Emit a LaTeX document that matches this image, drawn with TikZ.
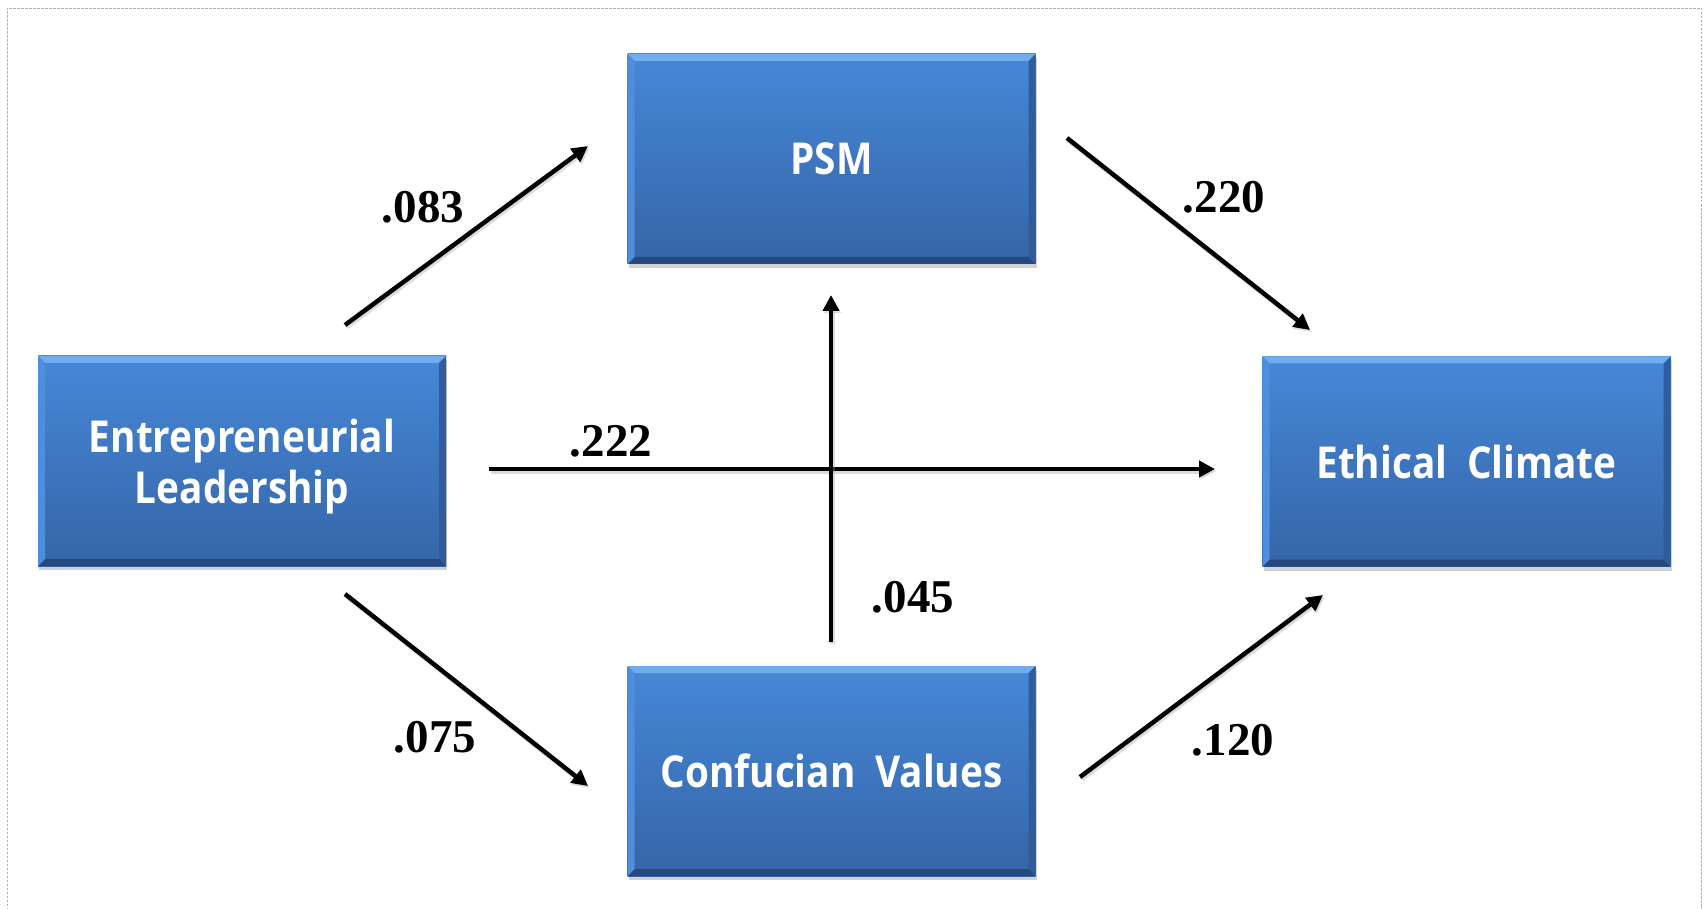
\documentclass[tikz,border=0pt]{standalone}
\usepackage{fontspec}
\usepackage{graphicx}
\setmainfont{Liberation Serif}
\newfontfamily\boxfont{Open Sans}
\usetikzlibrary{arrows.meta,shadows,calc}
\definecolor{boxtop}{RGB}{70,136,216}
\definecolor{boxbot}{RGB}{53,101,167}
\definecolor{bevtop}{RGB}{112,172,238}
\definecolor{bevleft}{RGB}{78,142,220}
\definecolor{bevright}{RGB}{48,92,155}
\definecolor{bevbot}{RGB}{38,72,125}
\definecolor{framegray}{RGB}{175,175,175}
\newcommand\bxt[1]{\scalebox{0.88}[1]{#1}}
\begin{document}
\begin{tikzpicture}[x=1pt,y=-1pt,
  varbox/.style={rectangle, minimum width=408pt, minimum height=210pt, inner sep=0pt,
    top color=boxtop, bottom color=boxbot, draw=none,
    text=white, align=center, font=\boxfont\bfseries\fontsize{44}{51}\selectfont,
    drop shadow={opacity=0.35, shadow xshift=1pt, shadow yshift=-4pt},
    path picture={
      \fill[bevtop] (path picture bounding box.north west) -- (path picture bounding box.north east)
        -- ($(path picture bounding box.north east)+(-7pt,-7pt)$) -- ($(path picture bounding box.north west)+(7pt,-7pt)$) -- cycle;
      \fill[bevbot] (path picture bounding box.south west) -- (path picture bounding box.south east)
        -- ($(path picture bounding box.south east)+(-7pt,7pt)$) -- ($(path picture bounding box.south west)+(7pt,7pt)$) -- cycle;
      \fill[bevleft] (path picture bounding box.north west) -- (path picture bounding box.south west)
        -- ($(path picture bounding box.south west)+(7pt,7pt)$) -- ($(path picture bounding box.north west)+(7pt,-7pt)$) -- cycle;
      \fill[bevright] (path picture bounding box.north east) -- (path picture bounding box.south east)
        -- ($(path picture bounding box.south east)+(-7pt,7pt)$) -- ($(path picture bounding box.north east)+(-7pt,-7pt)$) -- cycle;
    }},
  conn/.style={line width=4.5pt, black, -{Triangle[length=16pt,width=16pt]},
    preaction={draw=black!40, opacity=0.35, line width=5pt, transform canvas={shift={(1.5pt,-2pt)}}}},
  coef/.style={font=\bfseries\fontsize{47}{54}\selectfont, inner sep=0pt}]
\useasboundingbox (0,0) rectangle (1706,909);
\fill[white] (0,0) rectangle (1706,909);
\draw[framegray, line width=0.9pt, dash pattern=on 2.5pt off 1.5pt] (7,930) -- (7,8) -- (1701,8) -- (1701,930);

\node[varbox] (psm) at (831.5,159) {\bxt{PSM}};
\node[varbox] (el) at (242,461) {\rule{0pt}{45pt}\bxt{Entrepreneurial}\\\bxt{Leadership}};
\node[varbox] (ec) at (1466.5,461.5) {\bxt{Ethical\hspace{0.25em} Climate}};
\node[varbox] (cv) at (831.5,771) {\bxt{Confucian\hspace{0.25em} Values}};

\coordinate (a1s) at (345,325);  \coordinate (a1e) at (588,146);
\coordinate (a2s) at (1067,138); \coordinate (a2e) at (1310,330);
\coordinate (a3s) at (489,469);  \coordinate (a3e) at (1215,469);
\coordinate (a4s) at (831,642);  \coordinate (a4e) at (831,295);
\coordinate (a5s) at (345,594);  \coordinate (a5e) at (588,786);
\coordinate (a6s) at (1080,777); \coordinate (a6e) at (1323,595);

\draw[conn] (a1s) -- (a1e);
\draw[conn] (a2s) -- (a2e);
\draw[conn] (a3s) -- (a3e);
\draw[conn] (a4s) -- (a4e);
\draw[conn] (a5s) -- (a5e);
\draw[conn] (a6s) -- (a6e);

\node[coef] (l1) at (423,207) {.083};
\node[coef] (l2) at (1224,197) {.220};
\node[coef] (l3) at (611,441) {.222};
\node[coef] (l4) at (913,597) {.045};
\node[coef] (l5) at (435,737) {.075};
\node[coef] (l6) at (1233,740) {.120};
\end{tikzpicture}
\end{document}
